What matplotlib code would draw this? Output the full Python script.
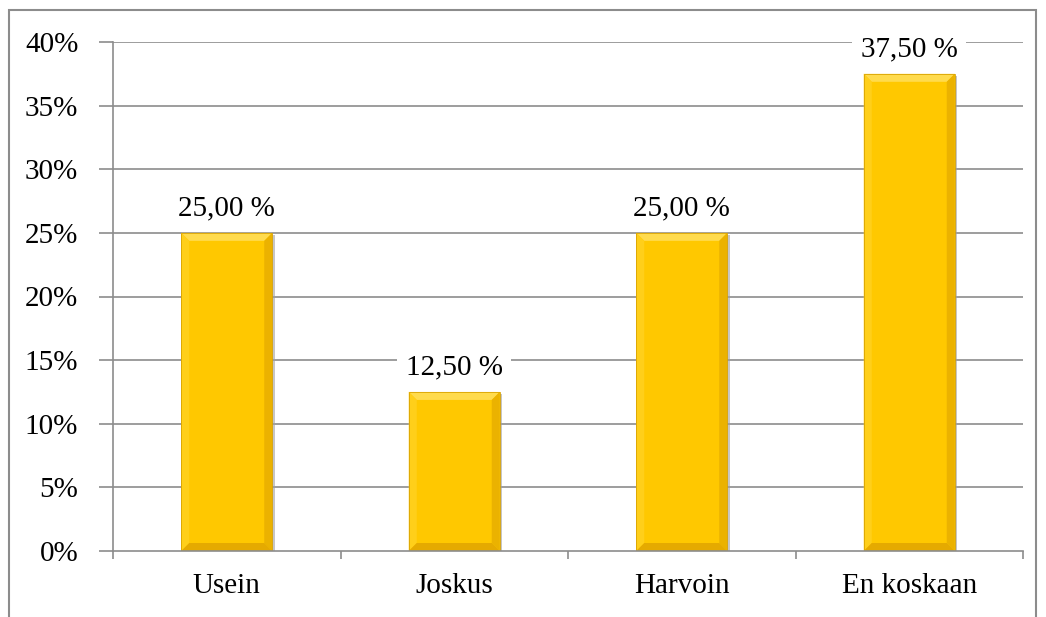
import matplotlib
matplotlib.use("Agg")
import matplotlib.pyplot as plt
import numpy as np
from matplotlib.patches import Rectangle, Polygon

categories = ["Usein", "Joskus", "Harvoin", "En koskaan"]
values = [25.0, 12.5, 25.0, 37.5]
labels = ["25,00 %", "12,50 %", "25,00 %", "37,50 %"]
yticks = [0, 5, 10, 15, 20, 25, 30, 35, 40]
yticklabels = ["0%", "5%", "10%", "15%", "20%", "25%", "30%", "35%", "40%"]

plt.rcParams['font.family'] = ['Liberation Serif', 'DejaVu Serif']

W, H, DPI = 1046, 617, 100
fig = plt.figure(figsize=(W / DPI, H / DPI), dpi=DPI)
ax = fig.add_axes([113 / W, 1 - 551 / H, (1023 - 113) / W, (551 - 42) / H])

x = np.arange(len(categories))
grey = "#8c8c8c"
ax.set_xlim(-0.5, len(categories) - 0.5)
ax.set_ylim(0, 40)
for t in yticks[1:]:
    ax.axhline(t, color=grey, lw=1.2, zorder=0)

bars = ax.bar(x, values, width=0.4, color="#FFC800", edgecolor="none", zorder=2)

# bevel size in data units (~8 px)
bx = 8 / ((1023 - 113) / len(categories))
by = 8 / ((551 - 42) / 40)
for b in bars:
    x0, y0 = b.get_x(), b.get_y()
    w, h = b.get_width(), b.get_height()
    x1, y1 = x0 + w, y0 + h
    # shadow
    ax.add_patch(Rectangle((x0 + 0.012, y0 - 0.2), w, h, color="#a0a0a0", alpha=0.6, zorder=1.5, lw=0))
    # bevel facets
    ax.add_patch(Polygon([(x0, y1), (x1, y1), (x1 - bx, y1 - by), (x0 + bx, y1 - by)],
                         closed=True, color="#FFDB4D", lw=0, zorder=2.2))
    ax.add_patch(Polygon([(x0, y0), (x0, y1), (x0 + bx, y1 - by), (x0 + bx, y0 + by)],
                         closed=True, color="#FFCF1A", lw=0, zorder=2.2))
    ax.add_patch(Polygon([(x1, y0), (x1, y1), (x1 - bx, y1 - by), (x1 - bx, y0 + by)],
                         closed=True, color="#EBB200", lw=0, zorder=2.2))
    ax.add_patch(Polygon([(x0, y0), (x1, y0), (x1 - bx, y0 + by), (x0 + bx, y0 + by)],
                         closed=True, color="#E5AA00", lw=0, zorder=2.2))
    ax.add_patch(Rectangle((x0, y0), w, h, fill=False, edgecolor="#D9A300", lw=0.6, zorder=2.3))

for xi, v, lab in zip(x, values, labels):
    ax.text(xi, v + 0.9, lab, ha="center", va="bottom", fontsize=21, zorder=3,
            bbox=dict(facecolor="white", edgecolor="none", pad=6))

ax.set_yticks(yticks)
ax.set_yticklabels(yticklabels, fontsize=21)
ax.set_xticks(x)
ax.set_xticklabels(categories, fontsize=21)
ax.tick_params(axis="y", length=10, color=grey, width=1.2, pad=15)
ax.tick_params(axis="x", length=0, pad=16)
ax.set_xticks(np.arange(len(categories) + 1) - 0.5, minor=True)
ax.tick_params(axis="x", which="minor", length=6, color=grey, width=1.2)

for s in ["top", "right"]:
    ax.spines[s].set_visible(False)
for s in ["left", "bottom"]:
    ax.spines[s].set_color(grey)
    ax.spines[s].set_linewidth(1.2)

# outer chart border
fig.add_artist(Rectangle((9 / W, -0.1), (1036 - 9) / W, 1 - 10 / H + 0.1, transform=fig.transFigure,
                         fill=False, edgecolor=grey, lw=1.5))

fig.savefig("out.png", dpi=DPI)
